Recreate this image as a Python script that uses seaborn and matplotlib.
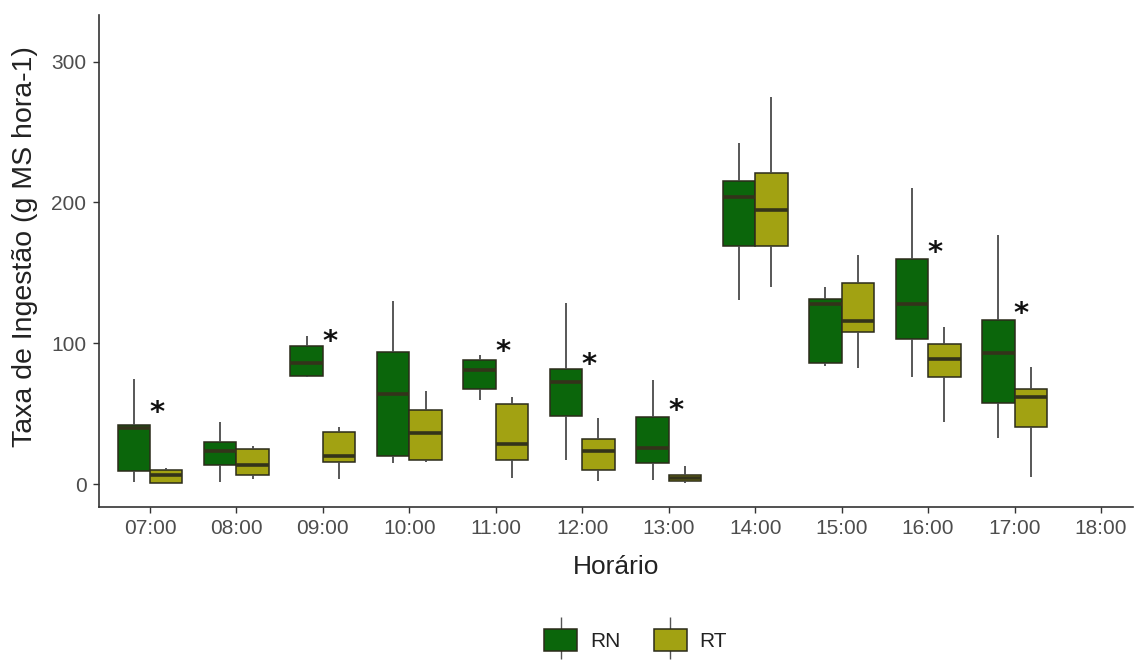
import numpy as np
import pandas as pd
import matplotlib
matplotlib.use("Agg")
import matplotlib.pyplot as plt
import seaborn as sns
from matplotlib.patches import Patch
from matplotlib.lines import Line2D
from matplotlib.legend_handler import HandlerTuple

# horarios (18:00 sem dados)
horas = ['07:00', '08:00', '09:00', '10:00', '11:00', '12:00',
         '13:00', '14:00', '15:00', '16:00', '17:00', '18:00']
horas_dados = horas[:-1]

# resumo de cinco numeros (min, q1, mediana, q3, max)
rn_min = [2, 2, 76, 15, 60, 17, 3.5, 131, 84, 76, 33]
rn_q1 = [9.5, 13.5, 77, 20, 67.5, 48.5, 15, 169, 86.5, 103, 58]
rn_med = [40, 23.5, 86, 64, 81, 72.5, 26, 204, 128, 128, 93]
rn_q3 = [42, 30, 98, 94, 88.5, 82, 48, 215.5, 131.5, 160, 117]
rn_max = [75, 44, 105, 130, 91.5, 129, 74, 242, 140, 210, 177]

rt_min = [1, 4, 4, 16, 4.5, 2.5, 1.2, 140, 82.5, 44, 5]
rt_q1 = [1.2, 6.5, 16, 17.5, 17, 10.5, 2.4, 169, 108, 76.5, 40.5]
rt_med = [6.5, 14, 20.5, 36.5, 29, 23.5, 4.7, 194.5, 116, 89, 62]
rt_q3 = [10, 25, 37, 53, 57, 32.5, 7, 221, 143, 99.5, 68]
rt_max = [11.5, 27, 41, 66.5, 62, 47, 13, 275, 163, 111.5, 83]

# posicoes dos asteriscos (diferenca significativa)
ast_horas = ['07:00', '09:00', '11:00', '12:00', '13:00', '16:00', '17:00']
ast_y = [53, 103, 96, 87, 54, 166, 123]

cor_rn = '#0B660B'
cor_rt = '#A2A212'

rows = []
for i, h in enumerate(horas_dados):
    for v in (rn_min[i], rn_q1[i], rn_med[i], rn_q3[i], rn_max[i]):
        rows.append((h, 'RN', v))
    for v in (rt_min[i], rt_q1[i], rt_med[i], rt_q3[i], rt_max[i]):
        rows.append((h, 'RT', v))
df = pd.DataFrame(rows, columns=['Horario', 'Grupo', 'Taxa'])

sns.set_style('ticks')
plt.rcParams['font.family'] = ['Liberation Sans', 'DejaVu Sans']

fig = plt.figure(figsize=(11.35, 6.6), dpi=100)
ax = fig.add_axes([99 / 1135, 1 - 507 / 660, 1034 / 1135, 492 / 660])

sns.boxplot(data=df, x='Horario', y='Taxa', hue='Grupo', order=horas,
            hue_order=['RN', 'RT'], palette={'RN': cor_rn, 'RT': cor_rt},
            saturation=1, whis=(0, 100), width=0.75, gap=0,
            showcaps=False, linecolor='#2b2b1a', linewidth=1.1,
            whiskerprops={'color': '#4a4a4a', 'linewidth': 1.3},
            medianprops={'color': '#33331a', 'linewidth': 2.6},
            legend=False, ax=ax)

for h, y in zip(ast_horas, ast_y):
    ax.text(horas.index(h) + 0.08, y, '*', fontsize=21, fontweight='bold',
            ha='center', va='center_baseline', color='#111111', family='DejaVu Sans')

ax.set_xlim(-0.59, 11.37)
ax.set_ylim(-16, 333)
ax.set_yticks([0, 100, 200, 300])
ax.set_xlabel('Horário', fontsize=19, color='#222222', labelpad=12)
ax.set_ylabel('Taxa de Ingestão (g MS hora-1)', fontsize=20.5, color='#222222')
ax.yaxis.set_label_coords(-0.059, 0.53)
ax.tick_params(axis='both', labelsize=15, labelcolor='#4d4d4d', color='#333333',
               length=4, width=1, pad=5)
sns.despine(ax=ax)
for s in ['left', 'bottom']:
    ax.spines[s].set_color('#333333')
    ax.spines[s].set_linewidth(1.2)

handles = []
for c in (cor_rn, cor_rt):
    linha = Line2D([], [], marker='|', markersize=30, color='#555555', linestyle='none')
    caixa = Patch(facecolor=c, edgecolor='#2b2b1a', linewidth=1.1)
    handles.append((linha, caixa))
fig.legend(handles, ['RN', 'RT'], handler_map={tuple: HandlerTuple(ndivide=1, pad=0)},
           loc='center', bbox_to_anchor=(0.56, 1 - 640 / 660), ncol=2, frameon=False,
           fontsize=15, handlelength=1.6, handleheight=1.3, columnspacing=1.6,
           handletextpad=0.6, labelcolor='#222222')

fig.savefig('out.png', dpi=100)
